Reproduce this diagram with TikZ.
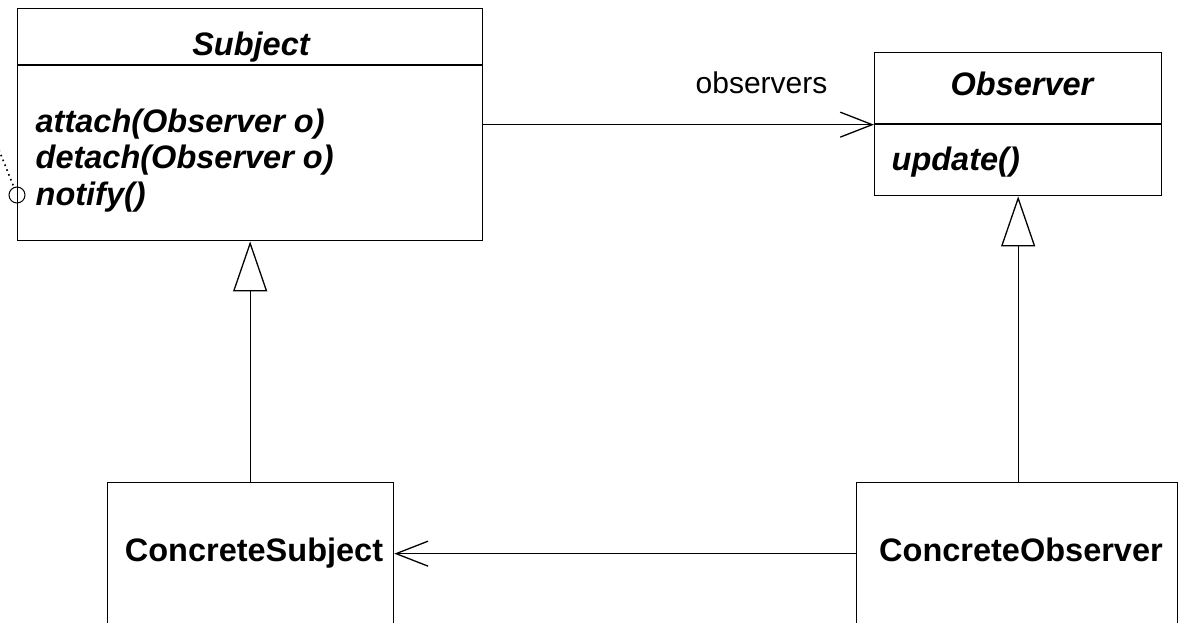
\documentclass[tikz,border=0pt]{standalone}
\usepackage{fontspec}
\setmainfont{Liberation Sans}
\usetikzlibrary{arrows.meta}
\begin{document}
\begin{tikzpicture}[x=1pt,y=-1pt,line width=1.3pt,
  classbox/.style={draw, rectangle, anchor=north west, inner sep=0pt},
  title/.style={font=\fontsize{32.5}{32.5}\selectfont\bfseries\itshape, anchor=base, inner sep=0pt},
  oper/.style={font=\fontsize{32.5}{32.5}\selectfont\bfseries\itshape, anchor=base west, inner sep=0pt},
  cname/.style={font=\fontsize{32.5}{32.5}\selectfont\bfseries, anchor=base, inner sep=0pt},
  rolelabel/.style={font=\fontsize{30}{30}\selectfont, anchor=base west, inner sep=0pt},
  assoc/.style={-{Straight Barb[length=32pt, width=25pt]}},
  inherit/.style={-{Triangle[open, length=50pt, width=34pt, fill=white]}}]
\useasboundingbox (0,0) rectangle (1180,622);
\clip (0,0) rectangle (1180,622);
\fill[white] (0,0) rectangle (1180,622);

% abstract subject class
\node[classbox, minimum width=465pt, minimum height=232pt] (subject) at (17,8) {};
\draw (17,65) -- (482,65);
\node[title] (subjname) at (251,55) {Subject};
\node[oper] (attach) at (35,132) {attach(Observer o)};
\node[oper] (detach) at (35,168.5) {detach(Observer o)};
\node[oper] (notify) at (35,205) {notify()};

% lollipop on the subject
\node[circle, draw, line width=1pt, minimum size=16pt, inner sep=0pt] (iface) at (17,195) {};
\coordinate (ifaceend) at (-1,150);
\draw[line width=1.6pt, dash pattern=on 1.6pt off 3.6pt] (ifaceend) -- (iface);

% abstract observer class
\node[classbox, minimum width=287pt, minimum height=143pt] (observer) at (874,52) {};
\draw (874,124) -- (1161,124);
\node[title] (obsname) at (1022,95) {Observer};
\node[oper] (update) at (891,170) {update()};

% concrete classes
\node[classbox, minimum width=286pt, minimum height=142pt] (csubject) at (107,482) {};
\node[cname] (csubjname) at (254,561) {ConcreteSubject};
\node[classbox, minimum width=321pt, minimum height=142pt] (cobserver) at (856,482) {};
\node[cname] (cobsname) at (1021,561) {ConcreteObserver};

% associations
\draw[assoc] (subject.east) -- (subject.east -| observer.west);
\node[rolelabel] (role) at (695,93) {observers};
\draw[assoc] (cobserver.west) -- (csubject.east);

% generalizations
\draw[inherit] (subject.south |- csubject.north) -- (subject.south);
\draw[inherit] (observer.south |- cobserver.north) -- (observer.south);
\end{tikzpicture}
\end{document}
